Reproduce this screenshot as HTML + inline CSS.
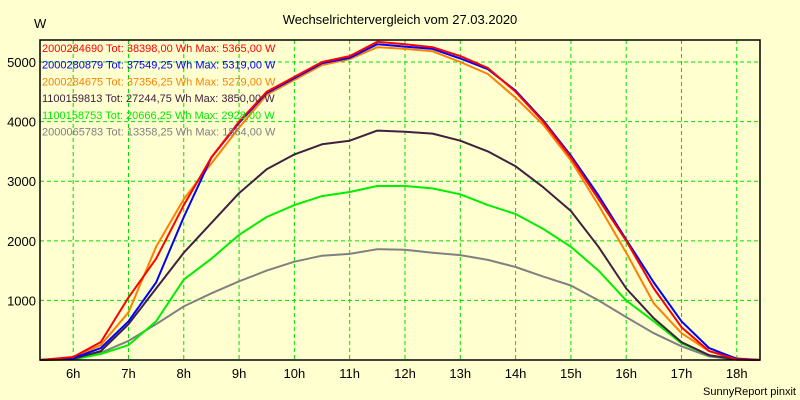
<!DOCTYPE html>
<html><head><meta charset="utf-8"><style>
html,body{margin:0;padding:0;background:#ffffd0;}
svg{display:block;font-family:"Liberation Sans",sans-serif;}
</style></head><body>
<svg id="chart" width="800" height="400" xmlns="http://www.w3.org/2000/svg">
<rect x="0" y="0" width="800" height="400" fill="#ffffd0"/>
<text x="400" y="24" text-anchor="middle" font-size="13" fill="#000">Wechselrichtervergleich vom 27.03.2020</text>
<text x="34" y="28" font-size="13" fill="#000">W</text>
<text x="796" y="395" text-anchor="end" font-size="11" fill="#000">SunnyReport pinxit</text>
<g id="grid"></g><g id="axes"></g><g id="series"></g><g id="legend"></g>
<rect x="40" y="40" width="720" height="320" fill="none" stroke="#000" stroke-width="1.5"/>
</svg>
<script>
const hours=[5.4,6,6.5,7,7.5,8,8.5,9,9.5,10,10.5,11,11.5,12,12.5,13,13.5,14,14.5,15,15.5,16,16.5,17,17.5,18,18.42];
const yTicks=[1000,2000,3000,4000,5000];
const xTicks=[6,7,8,9,10,11,12,13,14,15,16,17,18];
const seriesNames=["2000284690 Tot: 38398,00 Wh Max: 5365,00 W","2000280879 Tot: 37549,25 Wh Max: 5319,00 W","2000284675 Tot: 37356,25 Wh Max: 5279,00 W","1100159813 Tot: 27244,75 Wh Max: 3850,00 W","1100158753 Tot: 20666,25 Wh Max: 2928,00 W","2000065783 Tot: 13358,25 Wh Max: 1864,00 W"];
const seriesColors=["#ff0000","#0000ff","#ff8000","#402040","#00ee00","#808080"];
const red=[0,50,300,1050,1700,2600,3400,4000,4500,4750,5000,5100,5340,5300,5250,5100,4900,4500,4000,3400,2700,2000,1200,550,150,10,0];
const blue=[0,30,200,650,1300,2400,3400,3980,4480,4730,4980,5070,5300,5260,5220,5060,4880,4520,4020,3430,2760,2020,1300,650,200,20,0];
const orange=[0,40,250,800,1900,2700,3300,3900,4450,4700,4950,5050,5250,5220,5180,5000,4800,4400,3950,3350,2600,1800,950,450,150,30,0];
const purple=[0,20,150,600,1200,1800,2300,2800,3200,3450,3620,3680,3850,3830,3800,3680,3500,3250,2900,2500,1900,1200,700,300,80,10,0];
const green=[0,10,100,250,650,1350,1700,2100,2400,2600,2750,2820,2920,2920,2880,2780,2600,2450,2200,1900,1500,1000,650,280,80,10,0];
const gray=[0,10,120,320,600,900,1120,1320,1500,1650,1750,1780,1860,1850,1800,1760,1680,1560,1400,1250,1000,720,450,230,60,5,0];
const allSeries=[red,blue,orange,purple,green,gray];
const NS="http://www.w3.org/2000/svg";
const X0=40,X1=760,Y0=360,Y1=40,H0=5.4,H1=18.42,VMAX=5370;
const xs=h=>X0+(h-H0)/(H1-H0)*(X1-X0);
const ys=v=>Y0-v/VMAX*(Y0-Y1);
function mk(tag,attrs,parent){const e=document.createElementNS(NS,tag);for(const k in attrs)e.setAttribute(k,attrs[k]);parent.appendChild(e);return e;}
const grid=document.getElementById('grid'),axes=document.getElementById('axes'),ser=document.getElementById('series'),leg=document.getElementById('legend');
yTicks.forEach(v=>{
 const l=mk('line',{x1:X0,x2:X1,y1:ys(v),y2:ys(v),stroke:'#00dd00','stroke-dasharray':'4,3','stroke-width':1},grid);
 
 
 const t=mk('text',{x:X0-4,y:ys(v)+5,'text-anchor':'end','font-size':13,fill:'#000'},axes);
 t.textContent=v;
 
 
});
xTicks.forEach(h=>{
 const l=mk('line',{x1:xs(h),x2:xs(h),y1:Y1,y2:Y0,stroke:'#00dd00','stroke-dasharray':'4,3','stroke-width':1},grid);
 
 
 const t=mk('text',{x:xs(h),y:Y0+18,'text-anchor':'middle','font-size':13,fill:'#000'},axes);
 t.textContent=h+'h';
 
 
});
for(let i=allSeries.length-1;i>=0;i--){
 const pts=allSeries[i].map((v,j)=>xs(hours[j]).toFixed(1)+','+ys(v).toFixed(1)).join(' ');
 const p=mk('polyline',{points:pts,fill:'none',stroke:seriesColors[i],'stroke-width':2,'stroke-linejoin':'round'},ser);
 
 
}
seriesNames.forEach((n,i)=>{
 const t=mk('text',{x:42,y:52+i*16.7,'font-size':11,fill:seriesColors[i]},leg);
 t.textContent=n;
 
 
});
</script>
</body></html>
